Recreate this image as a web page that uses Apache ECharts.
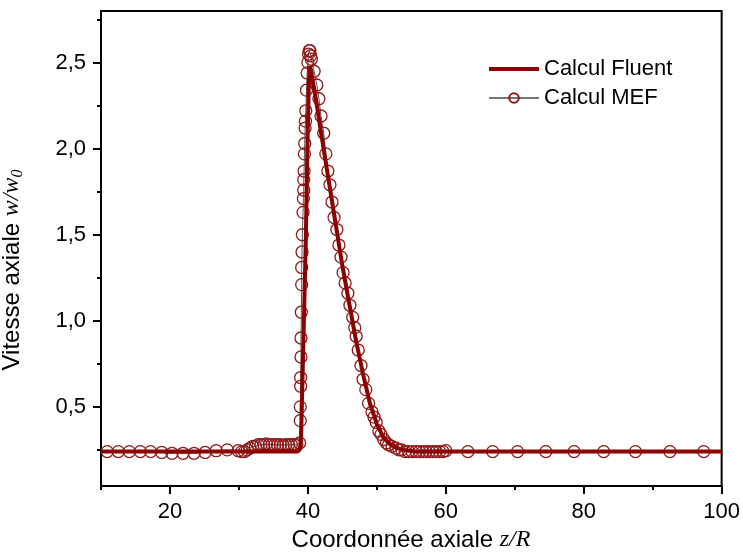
<!DOCTYPE html>
<html>
<head>
<meta charset="utf-8">
<script src="https://cdn.jsdelivr.net/npm/echarts@6.0.0/dist/echarts.min.js"></script>
<style>
html,body{margin:0;padding:0;background:#fff;}
#chart{width:743px;height:553px;}
</style>
</head>
<body>
<div id="chart"></div>
<script>
// ---- Data ----
const seriesNames = ['Calcul Fluent', 'Calcul MEF'];

const fluentZ = [10, 38.5, 38.8, 39.0, 39.3, 39.7, 39.95, 40.15, 40.3, 40.5, 41.0, 42.0, 43.0, 44.0, 45.0, 46.0, 47.0, 48.0, 49.0, 50.0, 51.0, 52.0, 53.0, 54.0, 55.5, 57.0, 100];
const fluentV = [0.24, 0.24, 0.25, 0.30, 0.80, 1.47, 2.05, 2.40, 2.48, 2.47, 2.33, 2.07, 1.82, 1.57, 1.32, 1.10, 0.88, 0.69, 0.52, 0.40, 0.32, 0.28, 0.26, 0.25, 0.24, 0.24, 0.24];

const mefZ = [
  10.9, 12.5, 14.1, 15.7, 17.2, 18.8, 20.3, 21.9, 23.5, 25.1, 26.7, 28.3, 29.9,
  30.4, 30.8, 31.2, 31.6, 32.0, 32.4, 32.8, 33.2, 33.6, 34.0, 34.4, 34.8, 35.2, 35.6, 36.0, 36.4, 36.8, 37.2, 37.6, 38.0, 38.4, 38.8,
  38.9, 38.9, 38.95, 38.95, 39.0, 39.0, 39.05, 39.1, 39.1, 39.15, 39.2, 39.3, 39.35, 39.4, 39.4, 39.45, 39.5, 39.55, 39.6, 39.65, 39.7, 39.8, 39.9,
  40.0, 40.1, 40.2, 40.3, 40.4, 40.5, 40.9,
  41.3, 41.6, 41.9, 42.3, 42.6, 42.9, 43.2, 43.5, 43.8, 44.2, 44.5, 44.8, 45.1, 45.4, 45.8, 46.1, 46.5, 46.8, 47.0, 47.3, 47.7, 48.0, 48.4, 48.8, 49.3, 49.6, 49.9, 50.3, 50.6, 51.0, 51.4, 51.7, 52.2, 52.8, 53.2, 53.6, 54.1, 54.6, 55.1, 55.7, 56.2, 56.7, 57.1, 57.6, 58.1, 58.6, 59.1, 59.6, 60.0,
  63.2, 66.8, 70.4, 74.5, 78.6, 82.9, 87.5, 92.5, 97.4
];
const mefV = [
  0.24, 0.24, 0.24, 0.24, 0.24, 0.235, 0.23, 0.23, 0.23, 0.235, 0.245, 0.25, 0.245,
  0.24, 0.24, 0.25, 0.26, 0.27, 0.27, 0.28, 0.28, 0.28, 0.285, 0.28, 0.28, 0.28, 0.28, 0.28, 0.275, 0.28, 0.28, 0.28, 0.28, 0.28, 0.29,
  0.42, 0.50, 0.62, 0.67, 0.79, 0.90, 1.05, 1.21, 1.31, 1.40, 1.50, 1.63, 1.71, 1.76, 1.82, 1.87, 1.97, 2.03, 2.12, 2.16, 2.22, 2.34, 2.44,
  2.50, 2.55, 2.57, 2.57, 2.54, 2.52, 2.45,
  2.37, 2.29, 2.19, 2.09, 1.97, 1.87, 1.79, 1.69, 1.60, 1.53, 1.44, 1.37, 1.28, 1.22, 1.16, 1.09, 1.02, 0.96, 0.91, 0.83, 0.74, 0.66, 0.60, 0.52, 0.47, 0.44, 0.41, 0.36, 0.34, 0.31, 0.29, 0.28, 0.27, 0.26, 0.25, 0.25, 0.24, 0.24, 0.24, 0.24, 0.24, 0.24, 0.24, 0.24, 0.24, 0.24, 0.24, 0.24, 0.245,
  0.24, 0.24, 0.24, 0.24, 0.24, 0.24, 0.24, 0.24, 0.24
];

const xMajorTicks = [20, 40, 60, 80, 100];
const xMinorTicks = [10, 30, 50, 70, 90];
const yMajorTicks = [0.5, 1.0, 1.5, 2.0, 2.5];
const yMinorTicks = [0.25, 0.75, 1.25, 1.75, 2.25, 2.75];

const xTitle = 'Coordonnée axiale ';
const xTitleVar = 'z/R';
const yTitle = 'Vitesse axiale ';
const yTitleVar = 'w/w';
const yTitleSub = '0';

// ---- Chart ----
const FONT = '"Liberation Sans", Arial, sans-serif';
const SERIF = '"Liberation Serif", "Times New Roman", serif';
const RED = '#8B0000';
const CIRCLE = '#8E1A1A';

const fluentData = fluentZ.map((z, i) => [z, fluentV[i]]);
const mefData = mefZ.map((z, i) => [z, mefV[i]]);

const chart = echarts.init(document.getElementById('chart'), null, {renderer: 'canvas'});

const axisCommon = {
  type: 'value', min: 10, max: 100, splitLine: {show: false}
};

chart.setOption({
  animation: false,
  backgroundColor: '#fff',
  grid: {left: 101, right: 20, top: 11, bottom: 67, show: true, borderColor: '#000', borderWidth: 2, backgroundColor: 'transparent'},
  legend: {
    data: [
      {name: seriesNames[0], icon: 'path://M0 0H100V8H0Z', itemStyle: {color: RED}},
      {name: seriesNames[1], lineStyle: {color: '#777', width: 2}}
    ],
    orient: 'vertical',
    left: 483, top: 53,
    itemWidth: 50, itemHeight: 12, itemGap: 7,
    textStyle: {fontSize: 22, fontFamily: FONT, color: '#000'}
  },
  xAxis: [
    Object.assign({}, axisCommon, {
      position: 'bottom',
      axisLine: {show: true, onZero: false, lineStyle: {color: '#000', width: 2}},
      axisTick: {show: true, customValues: xMajorTicks, length: 8, lineStyle: {color: '#000', width: 2}},
      axisLabel: {customValues: xMajorTicks, fontSize: 22, fontFamily: FONT, color: '#000', margin: 15}
    }),
    Object.assign({}, axisCommon, {
      position: 'bottom',
      axisLine: {show: false, onZero: false},
      axisTick: {show: true, customValues: xMinorTicks, length: 4, lineStyle: {color: '#000', width: 2}},
      axisLabel: {show: false}
    })
  ],
  yAxis: [
    {
      type: 'value', min: 0.04, max: 2.8, position: 'left',
      splitLine: {show: false},
      axisLine: {show: true, onZero: false, lineStyle: {color: '#000', width: 2}},
      axisTick: {show: true, customValues: yMajorTicks, length: 8, lineStyle: {color: '#000', width: 2}},
      axisLabel: {customValues: yMajorTicks, fontSize: 22, fontFamily: FONT, color: '#000', margin: 15,
        formatter: v => Number(v).toFixed(1).replace('.', ',')}
    },
    {
      type: 'value', min: 0.04, max: 2.8, position: 'left',
      splitLine: {show: false},
      axisLine: {show: false, onZero: false},
      axisTick: {show: true, customValues: yMinorTicks, length: 4, lineStyle: {color: '#000', width: 2}},
      axisLabel: {show: false}
    }
  ],
  series: [
    {
      name: seriesNames[1], type: 'line', data: mefData,
      xAxisIndex: 0, yAxisIndex: 0,
      symbol: 'circle', symbolSize: 12, showSymbol: true,
      itemStyle: {color: 'rgba(255,255,255,0)', borderColor: CIRCLE, borderWidth: 1.3},
      lineStyle: {color: '#555', width: 1},
      z: 2
    },
    {
      name: seriesNames[0], type: 'line', data: fluentData,
      xAxisIndex: 0, yAxisIndex: 0,
      symbol: 'none', showSymbol: false,
      itemStyle: {color: RED},
      lineStyle: {color: RED, width: 4},
      z: 3
    }
  ],
  graphic: [
    {
      type: 'text', x: 411, y: 540,
      style: {
        text: '{a|' + xTitle + '}{b|' + xTitleVar + '}',
        align: 'center', verticalAlign: 'middle',
        rich: {
          a: {fontSize: 24, fontFamily: FONT, fill: '#000'},
          b: {fontSize: 24, fontFamily: SERIF, fontStyle: 'italic', fill: '#000'}
        }
      }
    },
    {
      type: 'text', x: 12, y: 270, rotation: Math.PI / 2,
      style: {
        text: '{a|' + yTitle + '}{b|' + yTitleVar + '}{s|' + yTitleSub + '}',
        align: 'center', verticalAlign: 'middle',
        rich: {
          a: {fontSize: 24, fontFamily: FONT, fill: '#000', lineHeight: 28},
          b: {fontSize: 24, fontFamily: SERIF, fontStyle: 'italic', fill: '#000', lineHeight: 28},
          s: {fontSize: 16, fontFamily: SERIF, fontStyle: 'italic', fill: '#000', lineHeight: 28, verticalAlign: 'bottom'}
        }
      }
    }
  ]
});
</script>
</body>
</html>
